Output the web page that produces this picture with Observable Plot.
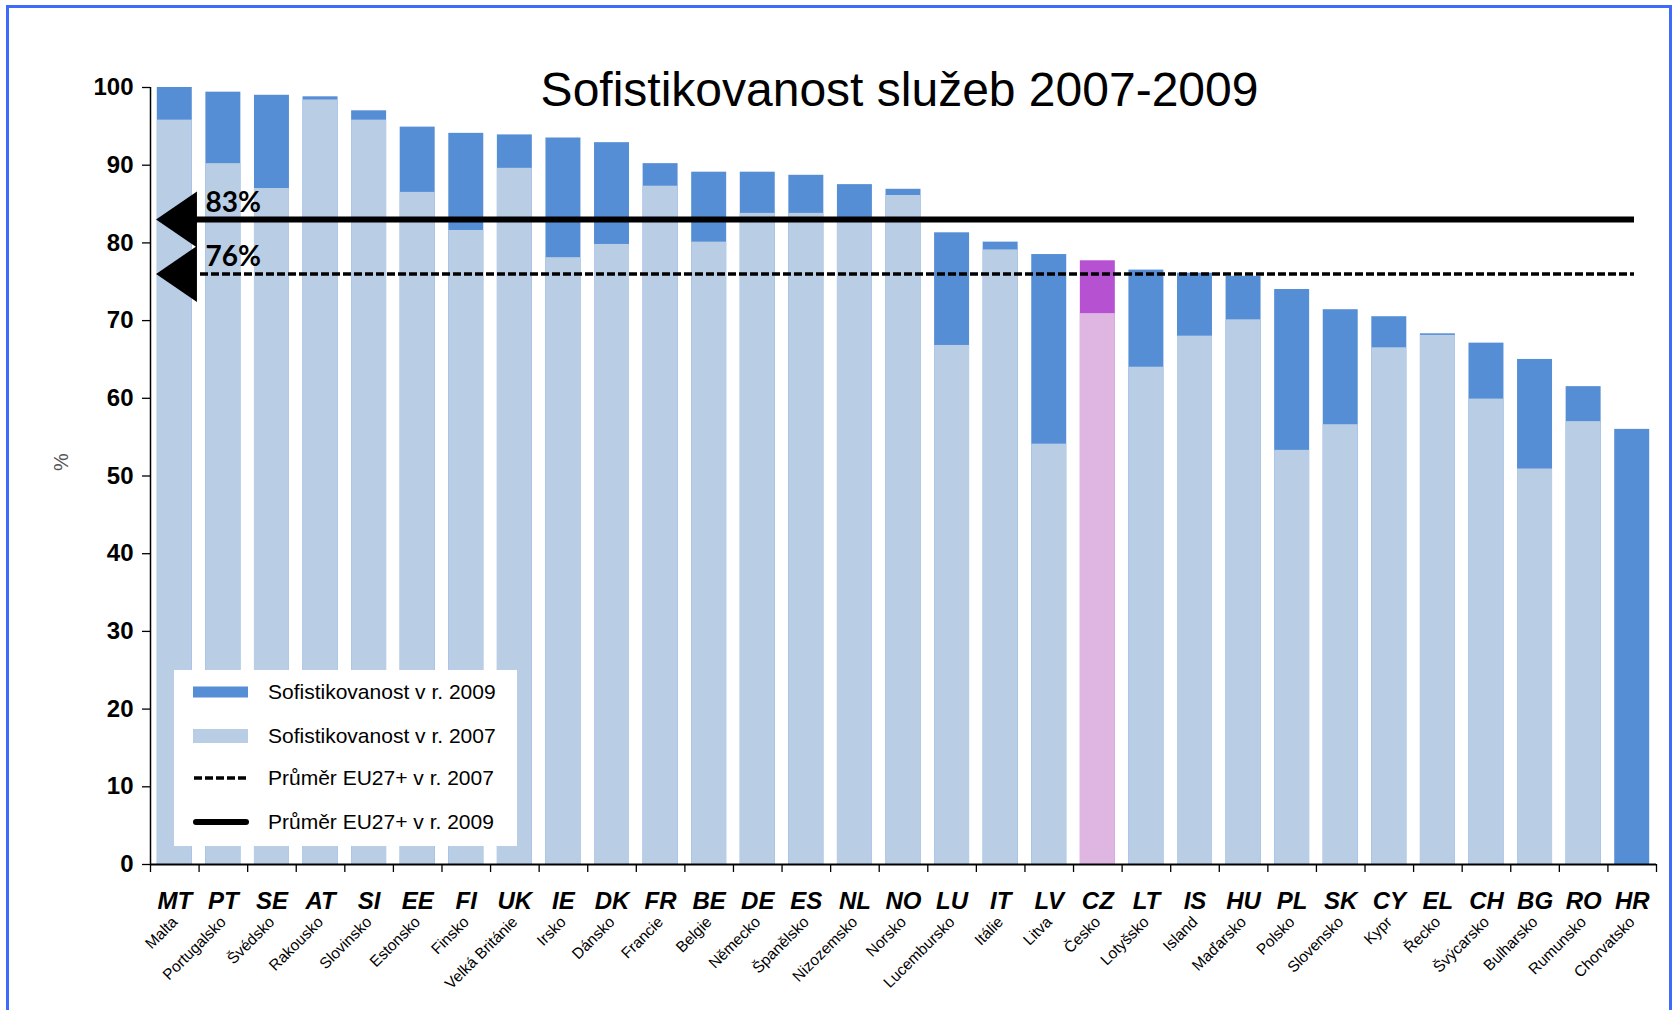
<!DOCTYPE html>
<html>
<head>
<meta charset="utf-8">
<script src="https://cdn.jsdelivr.net/npm/d3@7"></script>
<script src="https://cdn.jsdelivr.net/npm/@observablehq/plot@0.6"></script>
<style>
  html, body { margin: 0; padding: 0; background: #fff; width: 1672px; height: 1010px; overflow: hidden; }
  #wrap { position: relative; width: 1672px; height: 1010px; font-family: "Liberation Sans", Arial, sans-serif; }
  #chart { position: absolute; left: 0; top: 0; }
  #border { position: absolute; left: 6px; top: 5px; width: 1666px; height: 1100px; border: 3px solid #3e6bfa; box-sizing: border-box; pointer-events: none; }
  #legend { position: absolute; left: 174px; top: 670px; width: 343px; height: 176px; background: #fff; }
  .row { position: absolute; left: 0; height: 24px; width: 343px; }
  .row span { position: absolute; left: 94px; top: 0; font-size: 21px; line-height: 24px; color: #000; white-space: nowrap; }
  .row svg { position: absolute; left: 19px; top: 0; }
</style>
</head>
<body>
<div id="wrap">
  <div id="chart"></div>
  <div id="legend"></div>
  <div id="border"></div>
</div>
<script>
// ---- data ----
const codes = ["MT","PT","SE","AT","SI","EE","FI","UK","IE","DK","FR","BE","DE","ES","NL","NO","LU","IT","LV","CZ","LT","IS","HU","PL","SK","CY","EL","CH","BG","RO","HR"];
const names = ["Malta","Portugalsko","Švédsko","Rakousko","Slovinsko","Estonsko","Finsko","Velká Británie","Irsko","Dánsko","Francie","Belgie","Německo","Španělsko","Nizozemsko","Norsko","Lucembursko","Itálie","Litva","Česko","Lotyšsko","Island","Maďarsko","Polsko","Slovensko","Kypr","Řecko","Švýcarsko","Bulharsko","Rumunsko","Chorvatsko"];
const v2009 = [100, 99.4, 99.0, 98.8, 97.0, 94.9, 94.1, 93.9, 93.5, 92.9, 90.2, 89.1, 89.1, 88.7, 87.5, 86.9, 81.3, 80.1, 78.5, 77.7, 76.5, 76.1, 75.7, 74.0, 71.4, 70.5, 68.3, 67.1, 65.0, 61.5, 56.0];
const v2007 = [95.8, 90.2, 87.0, 98.4, 95.8, 86.5, 81.6, 89.6, 78.1, 79.8, 87.3, 80.1, 83.8, 83.8, 83.0, 86.1, 66.8, 79.1, 54.1, 70.9, 64.0, 68.0, 70.1, 53.3, 56.6, 66.5, 68.1, 59.9, 50.9, 57.0, 0];
const highlight = "CZ";
const avg2009 = 83, avg2007 = 76;
const avgLabels = ["83%", "76%"];
const yTicks = [0,10,20,30,40,50,60,70,80,90,100];
const title = "Sofistikovanost služeb 2007-2009";
const yLabel = "%";
const legendItems = ["Sofistikovanost v r. 2009", "Sofistikovanost v r. 2007", "Průměr EU27+ v r. 2007", "Průměr EU27+ v r. 2009"];

// ---- styles ----
const dark = "#558ed5", light = "#b9cde5";
const darkHi = "#b652d2", lightHi = "#dfb6e2";
const W = 1672, H = 1010;
const mL = 150, mR = 16, mT = 87, mB = 146;
const step = (W - mL - mR) / codes.length;

const data = codes.map((c, i) => ({code: c, name: names[i], v2009: v2009[i], v2007: v2007[i]}));

const leftTriangle = {
  draw(ctx, size) {
    const r = Math.sqrt(size / Math.PI);
    ctx.moveTo(-0.73 * r, 0);
    ctx.lineTo(0.73 * r, -r);
    ctx.lineTo(0.73 * r, r);
    ctx.closePath();
  }
};

const plot = Plot.plot({
  width: W, height: H,
  marginLeft: mL, marginRight: mR, marginTop: mT, marginBottom: mB,
  style: {fontFamily: "'Liberation Sans', Arial, sans-serif", color: "#000", background: "transparent"},
  x: {domain: codes, paddingInner: 0.28, paddingOuter: 0.14, round: false, axis: null},
  y: {domain: [0, 100], axis: null},
  marks: [
    Plot.barY(data, {x: "code", y: "v2009", fill: d => d.code === highlight ? darkHi : dark}),
    Plot.barY(data.filter(d => d.v2007 > 0), {x: "code", y: "v2007", fill: d => d.code === highlight ? lightHi : light}),
    // axes
    Plot.axisY({ticks: yTicks, tickSize: 8, tickPadding: 9, fontSize: 24, fontWeight: "bold", label: null, tickFormat: d => d, stroke: "#000", strokeWidth: 1.3}),
    Plot.ruleX([codes[0]], {x: d => d, dx: -step / 2, stroke: "#000", strokeWidth: 1.5}),
    Plot.ruleY([0], {stroke: "#000", strokeWidth: 1.8}),
    Plot.ruleX(codes, {x: d => d, dx: -step / 2, insetTop: H - mT - mB, insetBottom: -8, stroke: "#000", strokeWidth: 1.3}),
    Plot.ruleX([codes[codes.length - 1]], {x: d => d, dx: step / 2, insetTop: H - mT - mB, insetBottom: -8, stroke: "#000", strokeWidth: 1.3}),
    Plot.text([yLabel], {frameAnchor: "left", lineAnchor: "middle", dx: -89, dy: -5, rotate: -90, fontSize: 20, fill: "#555"}),
    // x labels
    Plot.text(data, {x: "code", text: "code", frameAnchor: "bottom", lineAnchor: "middle", dy: 37, fontSize: 24, fontWeight: "bold", fontStyle: "italic", fill: "#000"}),
    Plot.text(data, {x: "code", text: "name", frameAnchor: "bottom", lineAnchor: "middle", dy: 55, dx: 0, rotate: -45, textAnchor: "end", fontSize: 15.5, fill: "#000"}),
    // averages
    Plot.ruleY([avg2009], {stroke: "#000", strokeWidth: 6, insetLeft: 46, insetRight: 22}),
    Plot.ruleY([avg2007], {stroke: "#000", strokeWidth: 3.5, strokeDasharray: "8,3", insetLeft: 50, insetRight: 22}),
    Plot.dot([avg2009, avg2007], {y: d => d, frameAnchor: "left", dx: 26, r: 28, symbol: leftTriangle, fill: "#000", stroke: "none"}),
    Plot.text([avg2009, avg2007], {y: d => d, text: (d, i) => avgLabels[i], frameAnchor: "left", lineAnchor: "middle", dx: 55, dy: -17, textAnchor: "start", fontSize: 28, fontWeight: "bold", fontFamily: "Lato, 'Liberation Sans', sans-serif", fill: "#000"}),
    // title
    Plot.text([title], {frameAnchor: "top", lineAnchor: "middle", dx: -4, dy: 3, fontSize: 48, fill: "#000"})
  ]
});
document.getElementById("chart").appendChild(plot);

// ---- legend ----
const legend = document.getElementById("legend");
const rowCenters = [22, 66, 108, 152];
const swatches = [
  `<svg width="60" height="24"><rect x="0" y="6.5" width="55" height="11" fill="${dark}"/></svg>`,
  `<svg width="60" height="24"><rect x="0" y="5" width="55" height="14" fill="${light}"/></svg>`,
  `<svg width="60" height="24"><line x1="1" y1="12" x2="55" y2="12" stroke="#000" stroke-width="3.5" stroke-dasharray="8,3"/></svg>`,
  `<svg width="60" height="24"><line x1="3" y1="12" x2="53" y2="12" stroke="#000" stroke-width="6" stroke-linecap="round"/></svg>`
];
legendItems.forEach((t, i) => {
  const row = document.createElement("div");
  row.className = "row";
  row.style.top = (rowCenters[i] - 12) + "px";
  row.innerHTML = swatches[i] + `<span>${t}</span>`;
  legend.appendChild(row);
});
</script>
</body>
</html>
